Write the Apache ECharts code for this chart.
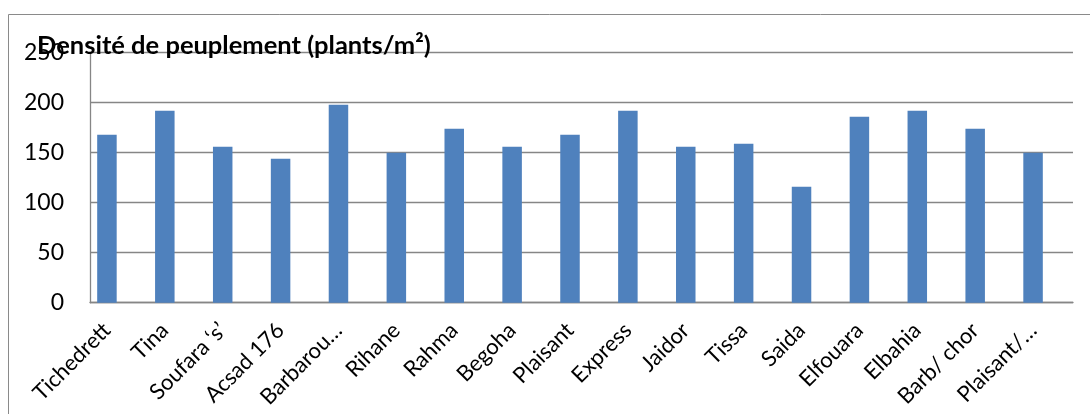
<!DOCTYPE html>
<html>
<head>
<meta charset="utf-8">
<script src="https://cdn.jsdelivr.net/npm/echarts@6/dist/echarts.min.js"></script>
<style>
  html, body { margin: 0; padding: 0; background: #fff; }
  #chart { width: 1090px; height: 414px; }
</style>
</head>
<body>
<div id="chart"></div>
<script>
// Stand density per variety (plants/m²)
const categories = ['Tichedrett', 'Tina', 'Soufara ‘s’', 'Acsad 176', 'Barbarou…', 'Rihane', 'Rahma', 'Begoha',
  'Plaisant', 'Express', 'Jaidor', 'Tissa', 'Saida', 'Elfouara', 'Elbahia', 'Barb/ chor', 'Plaisant/…'];
const density = [168, 192, 156, 144, 198, 150, 174, 156, 168, 192, 156, 159, 116, 186, 192, 174, 150];
const titleText = 'Densité de peuplement (plants/m²)';

const FONT = 'Lato, "Open Sans", sans-serif';
const GRID_COLOR = '#868686';

const chart = echarts.init(document.getElementById('chart'), null, { renderer: 'canvas' });
chart.setOption({
  animation: false,
  backgroundColor: '#fff',
  title: {
    text: titleText,
    left: 37, top: 33, padding: 0,
    textStyle: { fontFamily: FONT, fontWeight: 'bold', fontSize: 25.5, color: '#000' }
  },
  graphic: [{
    type: 'rect', z: -10, silent: true,
    shape: { x: 8.5, y: 14.5, width: 1100, height: 430 },
    style: { fill: 'none', stroke: '#8a8a8a', lineWidth: 1 }
  }],
  grid: [
    // axis frame and gridlines
    { left: 90, top: 52.7, width: 983, height: 250, containLabel: false },
    // bars and category labels
    { left: 78, top: 52.7, width: 984, height: 250, containLabel: false }
  ],
  xAxis: [
    {
      gridIndex: 0, type: 'category', data: categories,
      axisLine: { show: true, lineStyle: { color: GRID_COLOR, width: 1.3 } },
      axisTick: { show: false }, axisLabel: { show: false }, splitLine: { show: false }
    },
    {
      gridIndex: 1, type: 'category', data: categories,
      axisLine: { show: false }, axisTick: { show: false },
      axisLabel: {
        interval: 0, rotate: 45, margin: 24,
        fontFamily: FONT, fontSize: 22, color: '#000'
      }
    }
  ],
  yAxis: [
    {
      gridIndex: 0, type: 'value', min: 0, max: 250, interval: 50,
      axisLine: { show: true, lineStyle: { color: GRID_COLOR, width: 1.3 } },
      axisTick: { show: false },
      axisLabel: { margin: 26, fontFamily: FONT, fontSize: 23, color: '#000' },
      splitLine: { show: true, lineStyle: { color: GRID_COLOR, width: 1.3 } }
    },
    {
      gridIndex: 1, type: 'value', min: 0, max: 250, interval: 50, show: false,
      splitLine: { show: false }
    }
  ],
  series: [{
    type: 'bar', xAxisIndex: 1, yAxisIndex: 1,
    data: density, barWidth: 19.5,
    itemStyle: { color: '#4F81BD' }
  }]
});
</script>
</body>
</html>
